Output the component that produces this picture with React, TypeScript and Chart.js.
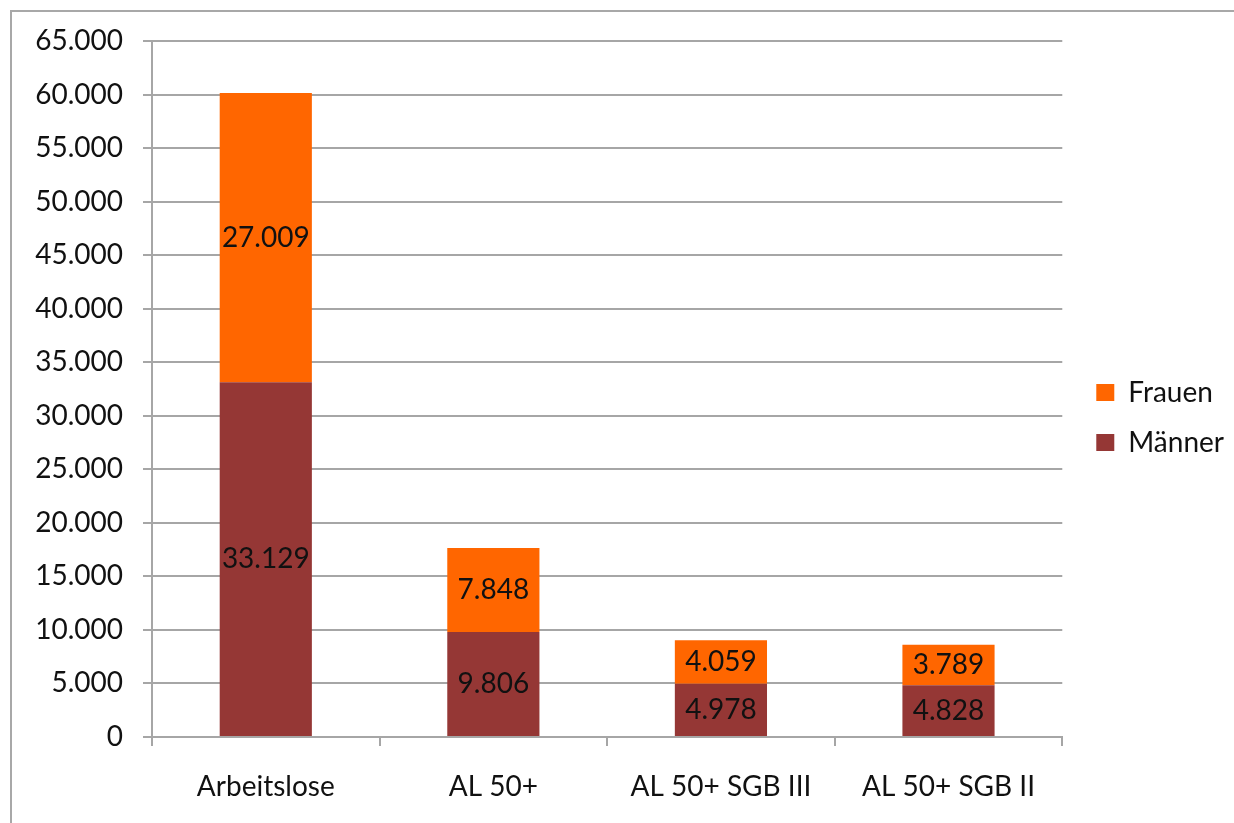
import React, { useEffect, useRef } from "react";
import { Chart, registerables } from "chart.js";

Chart.register(...registerables);

const categories = ["Arbeitslose", "AL 50+", "AL 50+ SGB III", "AL 50+ SGB II"];
const maenner = [33129, 9806, 4978, 4828];
const frauen = [27009, 7848, 4059, 3789];
const yMax = 65000;
const yStep = 5000;

const FONT = "Lato, 'Open Sans', sans-serif";
const FS = 28;
const TEXT = "#111111";
const GRID = "#a6a6a6";

const fmt = (v: number) => String(Math.round(v)).replace(/\B(?=(\d{3})+(?!\d))/g, ".");

const dataLabels = {
  id: "dataLabels",
  afterDatasetsDraw(chart: any) {
    const ctx = chart.ctx;
    ctx.save();
    ctx.font = `${FS}px ${FONT}`;
    ctx.fillStyle = TEXT;
    ctx.textAlign = "center";
    ctx.textBaseline = "middle";
    chart.data.datasets.forEach((ds: any, di: number) => {
      const meta = chart.getDatasetMeta(di);
      meta.data.forEach((el: any, i: number) => {
        const p = el.getCenterPoint();
        ctx.fillText(fmt(ds.data[i]), p.x, p.y);
      });
    });
    ctx.restore();
  },
};

export default function App() {
  const ref = useRef<HTMLCanvasElement | null>(null);
  useEffect(() => {
    if (!ref.current) return;
    const chart = new Chart(ref.current, {
      type: "bar",
      data: {
        labels: categories,
        datasets: [
          { label: "Männer", data: maenner, backgroundColor: "#953735", borderWidth: 0 },
          { label: "Frauen", data: frauen, backgroundColor: "#FF6600", borderWidth: 0 },
        ],
      },
      plugins: [dataLabels],
      options: {
        animation: false,
        responsive: false,
        maintainAspectRatio: false,
        layout: { padding: { left: 0, right: 0, top: 0, bottom: 0 } },
        datasets: { bar: { categoryPercentage: 1, barPercentage: 0.405 } },
        plugins: {
          tooltip: { enabled: false },
          legend: {
            position: "right",
            reverse: true,
            maxWidth: 162,
            title: { display: true, text: "", padding: 0, font: { size: 10, lineHeight: 1.2 } },
            labels: {
              boxWidth: 18,
              boxHeight: 17,
              padding: 22,
              color: TEXT,
              font: { family: FONT, size: FS },
            },
          },
        },
        scales: {
          x: {
            stacked: true,
            afterFit: (s: any) => { s.height = 86; },
            grid: { display: true, drawOnChartArea: false, drawTicks: true, tickLength: 9, color: GRID, lineWidth: 2 },
            border: { display: true, color: GRID, width: 2 },
            ticks: { color: TEXT, font: { family: FONT, size: FS }, padding: 24, maxRotation: 0 },
          },
          y: {
            stacked: true,
            min: 0,
            max: yMax,
            afterFit: (s: any) => { s.width = 152; s.paddingTop = 41; },
            grid: { color: GRID, lineWidth: 2, tickLength: 9 },
            border: { display: true, color: GRID, width: 2 },
            ticks: {
              stepSize: yStep,
              color: TEXT,
              padding: 20,
              font: { family: FONT, size: FS },
              callback: (v: any) => fmt(Number(v)),
            },
          },
          y2: {
            type: "linear",
            position: "right",
            display: true,
            grid: { display: false },
            border: { display: false },
            ticks: { display: false },
            afterFit: (s: any) => { s.width = 12; },
          },
        },
      },
    } as any);
    return () => chart.destroy();
  }, []);
  return (
    <div style={{ position: "fixed", left: 0, top: 0, width: 1234, height: 823, background: "#fff" }}>
      <div
        style={{
          position: "absolute",
          left: 10,
          top: 10,
          width: 1224,
          height: 813,
          boxSizing: "border-box",
          borderTop: "2px solid #a8a8a8",
          borderLeft: "2px solid #a8a8a8",
        }}
      />
      <canvas ref={ref} width={1234} height={823} style={{ position: "absolute", left: 0, top: 0 }} />
    </div>
  );
}
